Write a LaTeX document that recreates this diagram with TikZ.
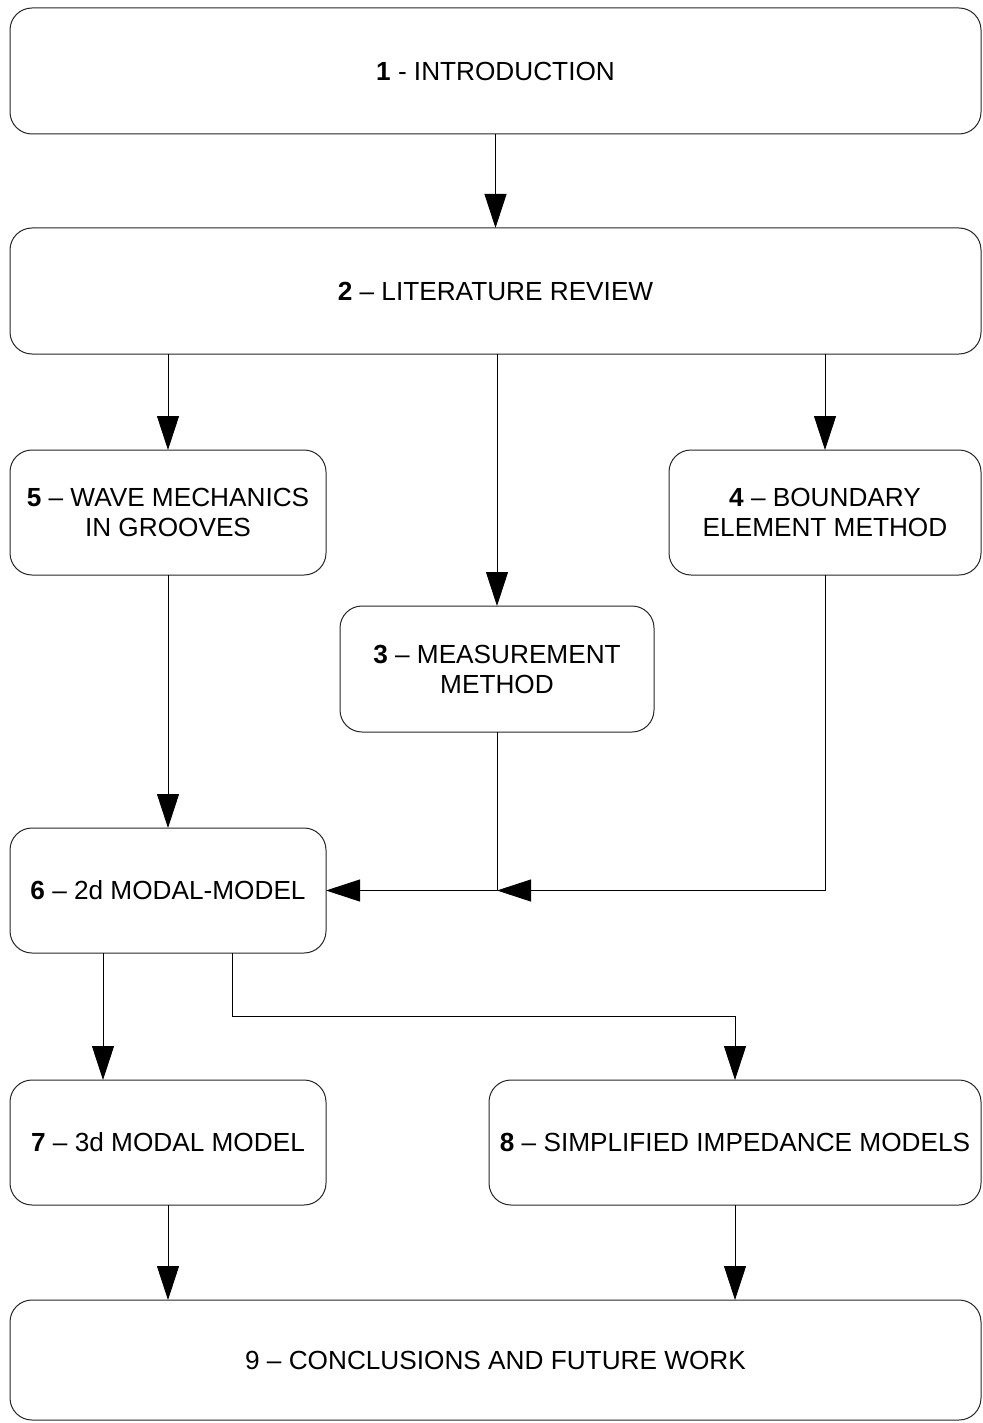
\documentclass[tikz,border=0pt]{standalone}
\usepackage{fontspec}
\setmainfont{Liberation Sans}
\usepackage{tikz}
\usetikzlibrary{arrows.meta}

\begin{document}
\begin{tikzpicture}[x=1pt,y=-1pt,
  sec/.style={draw=black!85,line width=1pt,rounded corners=22pt,align=center,
    inner sep=0pt,outer sep=0pt,font=\fontsize{26.2}{30}\selectfont},
  link/.style={line width=0.9pt,-{Triangle[length=34pt,width=22pt]}}]
\useasboundingbox (0,0) rectangle (982,1423);
\node[sec,minimum width=971pt,minimum height=126pt] (intro) at (495.5,71) {\textbf{1} - INTRODUCTION};
\node[sec,minimum width=971pt,minimum height=126pt] (lit) at (495.5,291) {\textbf{2} -- LITERATURE REVIEW};
\node[sec,minimum width=316pt,minimum height=125pt] (wave) at (168,512.5) {\textbf{5} -- WAVE MECHANICS\\IN GROOVES};
\node[sec,minimum width=312pt,minimum height=125pt] (bem) at (825,512.5) {\textbf{4} -- BOUNDARY\\ELEMENT METHOD};
\node[sec,minimum width=314pt,minimum height=126pt] (meas) at (497,669) {\textbf{3} -- MEASUREMENT\\METHOD};
\node[sec,minimum width=316pt,minimum height=125pt] (modal2d) at (168,890.5) {\textbf{6} -- 2d MODAL-MODEL};
\node[sec,minimum width=316pt,minimum height=125pt] (modal3d) at (168,1142.5) {\textbf{7} -- 3d MODAL MODEL};
\node[sec,minimum width=492pt,minimum height=125pt] (simp) at (735,1142.5) {\textbf{8} -- SIMPLIFIED IMPEDANCE MODELS};
\node[sec,minimum width=971pt,minimum height=120pt] (concl) at (495.5,1360) {9 -- CONCLUSIONS AND FUTURE WORK};
\coordinate (join) at (meas.south |- modal2d.east);
\draw[link] (intro) -- (lit);
\draw[link] (wave.north |- lit.south) -- (wave.north);
\draw[link] (bem.north |- lit.south) -- (bem.north);
\draw[link] (meas.north |- lit.south) -- (meas.north);
\draw[link] (wave) -- (modal2d);
\draw[link] (meas.south) |- (modal2d.east);
\draw[link] (bem.south) |- (join);
\draw[link] ([xshift=-65pt]modal2d.south) -- ([xshift=-65pt]modal2d.south |- modal3d.north);
\draw[link] ([xshift=64pt]modal2d.south) -- ++(0,63) -| (simp.north);
\draw[link] (modal3d.south) -- (modal3d.south |- concl.north);
\draw[link] (simp.south) -- (simp.south |- concl.north);
\end{tikzpicture}
\end{document}
